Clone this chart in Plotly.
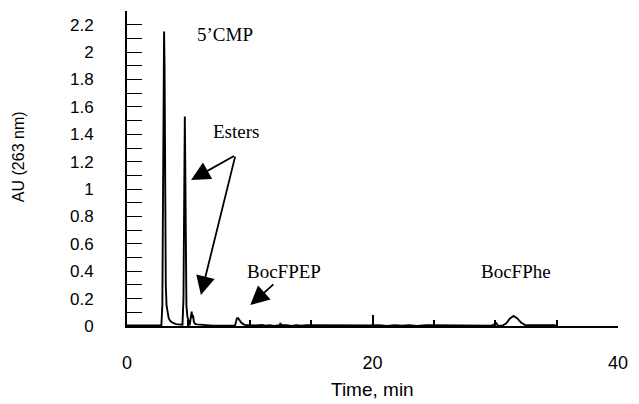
import plotly.graph_objects as go

# HPLC trace: retention time (min) and absorbance at 263 nm (AU)
time_min = [
    0.0, 1.5, 2.80, 2.88, 2.94, 2.98, 3.02, 3.06, 3.10, 3.16, 3.22, 3.30, 3.40,
    3.55, 3.75, 4.00, 4.30, 4.52, 4.60, 4.65, 4.68, 4.71, 4.74, 4.78, 4.84,
    4.92, 5.02, 5.10, 5.16, 5.22, 5.27, 5.32, 5.38, 5.45, 5.55, 5.70, 6.00,
    6.30, 6.40, 7.0, 7.8, 8.5, 8.80, 8.88, 8.95, 9.05, 9.15, 9.30, 9.50, 9.70,
    10.5, 11.0, 11.3, 11.6, 12.0, 12.45, 12.5, 12.55, 13.0, 13.4, 13.8, 14.2,
    14.6, 15.5, 17.0, 18.5, 19.8, 20.5, 21.2, 21.8, 22.4, 23.0, 23.6, 24.4,
    25.2, 25.8, 26.4, 27.0, 28.5, 29.7, 30.1, 30.2, 30.6, 30.9, 31.2, 31.5,
    31.8, 32.1, 32.4, 32.6, 34.8, 35.0,
]
absorbance_au = [
    0.004, 0.004, 0.005, 0.15, 1.20, 2.05, 2.15, 1.90, 0.90, 0.30, 0.15, 0.09, 0.055,
    0.035, 0.022, 0.014, 0.009, 0.010, 0.20, 1.10, 1.50, 1.53, 1.25, 0.50, 0.15,
    0.07, 0.03, 0.005, 0.04, 0.09, 0.105, 0.06, 0.08, 0.03, 0.015, 0.012, 0.010,
    0.006, 0.002, 0.003, 0.002, 0.003, 0.004, 0.030, 0.055, 0.058, 0.045, 0.025, 0.012, 0.005,
    0.004, 0.007, 0.002, 0.006, 0.001, 0.005, 0.022, 0.005, 0.006, 0.001, 0.006, 0.002,
    0.006, 0.005, 0.005, 0.006, 0.004, 0.006, 0.001, 0.006, 0.002, 0.006, 0.001, 0.006,
    0.006, 0.001, 0.005, 0.002, 0.002, 0.003, 0.020, 0.003, 0.004, 0.020, 0.055, 0.073,
    0.055, 0.025, 0.008, 0.005, 0.005, 0.0,
]

# axis ticks
x_tick_vals = [0, 20, 40]
y_tick_vals = [0, 0.2, 0.4, 0.6, 0.8, 1.0, 1.2, 1.4, 1.6, 1.8, 2.0, 2.2]
y_tick_text = ["0", "0.2", "0.4", "0.6", "0.8", "1", "1.2", "1.4", "1.6", "1.8", "2", "2.2"]

sans = "Liberation Sans, Arial, sans-serif"
serif = "Liberation Serif, Times New Roman, serif"

fig = go.Figure()
fig.add_trace(go.Scatter(
    x=time_min, y=absorbance_au, mode="lines",
    line=dict(color="black", width=1.9),
    hoverinfo="skip", showlegend=False,
))

# peak labels
peak_labels = [
    dict(text="5\u2019CMP", x=8.0, y=2.13),
    dict(text="Esters", x=8.85, y=1.42),
    dict(text="BocFPEP", x=12.8, y=0.395),
    dict(text="BocFPhe", x=31.65, y=0.395),
]
annotations = [
    dict(text=p["text"], x=p["x"], y=p["y"], xref="x", yref="y",
         showarrow=False, font=dict(family=serif, size=19, color="black"))
    for p in peak_labels
]

# arrows pointing to the peaks
arrows = [
    dict(x=5.22, y=1.066, ax=8.84, ay=1.248),
    dict(x=6.02, y=0.226, ax=8.84, ay=1.248),
    dict(x=10.04, y=0.153, ax=12.05, ay=0.314),
]
for a in arrows:
    annotations.append(dict(
        x=a["x"], y=a["y"], ax=a["ax"], ay=a["ay"],
        xref="x", yref="y", axref="x", ayref="y", text="",
        showarrow=True, arrowhead=2, arrowsize=2.1, arrowwidth=1.8,
        arrowcolor="black",
    ))

# axis titles
annotations.append(dict(
    text="AU (263 nm)", xref="paper", yref="paper", x=0, y=0.536,
    xanchor="center", yanchor="middle",
    xshift=-109, textangle=-90, showarrow=False,
    font=dict(family=sans, size=16, color="black"),
))
annotations.append(dict(
    text="Time, min", xref="paper", yref="paper", x=0.5, y=0,
    xanchor="center", yanchor="middle",
    yshift=-63, showarrow=False,
    font=dict(family=sans, size=19, color="black"),
))

fig.update_layout(
    width=639, height=404,
    margin=dict(l=127, r=14, t=11, b=78),
    paper_bgcolor="white", plot_bgcolor="white",
    annotations=annotations,
    xaxis=dict(
        range=[0, 40], tickvals=x_tick_vals,
        showline=True, linecolor="black", linewidth=1.5,
        ticks="inside", ticklen=11, tickwidth=1.5, tickcolor="black",
        minor=dict(dtick=5, ticks="inside", ticklen=6, tickwidth=1.5, tickcolor="black"),
        showgrid=False, zeroline=False, ticklabelstandoff=20,
        tickfont=dict(family=sans, size=18, color="black"),
    ),
    yaxis=dict(
        range=[0, 2.3005], tickvals=y_tick_vals, ticktext=y_tick_text,
        showline=True, linecolor="black", linewidth=1.8,
        ticks="inside", ticklen=15, tickwidth=1.3, tickcolor="black",
        minor=dict(dtick=0.1, tick0=0, ticks="inside", ticklen=15, tickwidth=1.3, tickcolor="black"),
        showgrid=False, zeroline=False, ticklabelstandoff=28,
        tickfont=dict(family=sans, size=17, color="black"),
    ),
)

fig.write_html("out.html")
